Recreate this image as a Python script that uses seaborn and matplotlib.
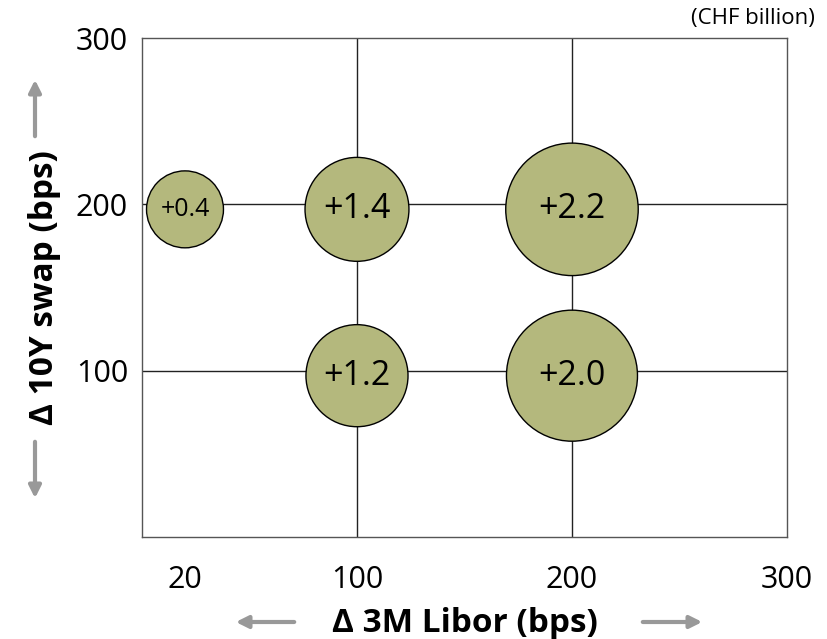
import pandas as pd
import matplotlib.pyplot as plt
import matplotlib.transforms as mtransforms
import seaborn as sns

# bubble data (CHF billion)
libor = [20, 100, 200, 100, 200]
swap = [200, 200, 200, 100, 100]
impact = [0.4, 1.4, 2.2, 1.2, 2.0]
labels = ["+0.4", "+1.4", "+2.2", "+1.2", "+2.0"]

x_ticks = [20, 100, 200, 300]
y_ticks = [100, 200, 300]

df = pd.DataFrame({"libor": libor, "swap": swap, "impact": impact, "label": labels})

sns.set_style("white")
plt.rcParams["font.family"] = ["Open Sans", "DejaVu Sans"]
plt.rcParams["text.color"] = "black"
plt.rcParams["xtick.color"] = "black"
plt.rcParams["ytick.color"] = "black"
plt.rcParams["axes.labelcolor"] = "black"

fig = plt.figure(figsize=(8.27, 6.39), dpi=100)
ax = fig.add_axes([0.1717, 0.1596, 0.7799, 0.7809])

# marker areas in pt^2 for each bubble value
size_map = {0.4: 3070, 1.2: 5400, 1.4: 5600, 2.0: 8900, 2.2: 9100}

sns.scatterplot(data=df, x="libor", y="swap", size="impact", sizes=size_map,
                color="#b4b87d", edgecolor="black", linewidth=1.0,
                alpha=1, legend=False, zorder=3, ax=ax)

# bubbles sit a few pixels under the grid crossings in the original
shift = ax.transData + mtransforms.ScaledTranslation(0, -0.05, fig.dpi_scale_trans)
for coll in ax.collections:
    coll.set_offset_transform(shift)

for _, r in df.iterrows():
    fs = 18 if r["impact"] < 1 else 24.5
    ax.text(r["libor"], r["swap"], r["label"], ha="center", va="center",
            fontsize=fs, zorder=4, transform=shift)

ax.set_xlim(0, 300)
ax.set_ylim(0, 300)
ax.set_xticks(x_ticks)
ax.set_yticks(y_ticks)
ax.tick_params(axis="both", length=0, labelsize=22)
ax.tick_params(axis="x", pad=20)
ax.tick_params(axis="y", pad=10)

for v in [100, 200]:
    ax.axvline(v, color="#222222", lw=1.0, zorder=1)
    ax.axhline(v, color="#222222", lw=1.0, zorder=1)

for s in ax.spines.values():
    s.set_color("#555555")
    s.set_linewidth(1.0)

ax.set_xlabel("Δ 3M Libor (bps)", fontsize=24, fontweight="bold", labelpad=9)
ax.set_ylabel("Δ 10Y swap (bps)", fontsize=24, fontweight="bold", labelpad=11)

fig.text(0.985, 0.988, "(CHF billion)", ha="right", va="top", fontsize=16)

# grey direction arrows next to the axis titles
arrow = dict(arrowstyle="-|>", color="#999999", lw=3, mutation_scale=18)
for start, end in [((297, 17), (233, 17)), ((640, 17), (705, 17)),
                   ((35, 500), (35, 562)), ((35, 200), (35, 138))]:
    ax.annotate("", xy=end, xytext=start, xycoords="figure pixels",
                textcoords="figure pixels", arrowprops=arrow)

fig.savefig("out.png", dpi=100)
